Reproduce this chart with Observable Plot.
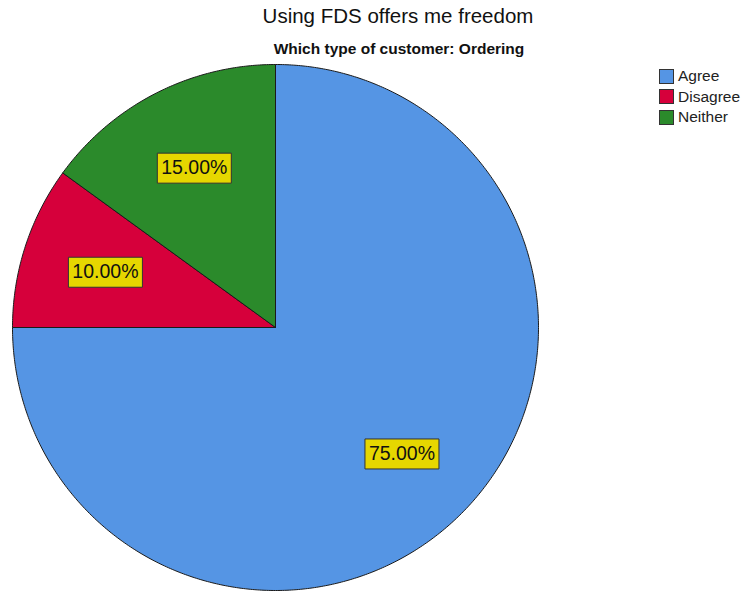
<!DOCTYPE html>
<html>
<head>
<meta charset="utf-8">
<script src="https://cdn.jsdelivr.net/npm/d3@7"></script>
<script src="https://cdn.jsdelivr.net/npm/@observablehq/plot@0.6"></script>
<style>
  html, body { margin: 0; padding: 0; background: #fff; }
  #wrap { position: relative; width: 741px; height: 592px; overflow: hidden; font-family: "Liberation Sans", Arial, sans-serif; }
  #title { position: absolute; left: 0; width: 796px; top: 4px; text-align: center; font-size: 20.5px; color: #111; }
  #subtitle { position: absolute; left: 0; width: 798px; top: 40px; text-align: center; font-size: 15.5px; font-weight: bold; color: #111; }
  #legend { position: absolute; left: 659px; top: 66px; font-size: 15.5px; color: #222; }
  .row { display: flex; align-items: center; height: 20.5px; }
  .sw { width: 13px; height: 13px; border: 1px solid #333; margin-right: 4px; }
  #chart { position: absolute; left: 0; top: 0; }
</style>
</head>
<body>
<div id="wrap">
  <div id="chart"></div>
  <div id="title">Using FDS offers me freedom</div>
  <div id="subtitle">Which type of customer: Ordering</div>
  <div id="legend"></div>
</div>
<script>
const categories = ["Agree", "Disagree", "Neither"];
const values = [75, 10, 15];
const colors = ["#5595e4", "#d6003b", "#2b8a2b"];

// Build slice outlines (clockwise from 12 o'clock) in unit-circle data space
const total = d3.sum(values);
const slices = [];
let acc = 0;
categories.forEach((c, i) => {
  const a0 = acc / total * 2 * Math.PI;
  acc += values[i];
  const a1 = acc / total * 2 * Math.PI;
  slices.push({cat: c, value: values[i], a0, a1});
});
const pts = [];
for (const s of slices) {
  pts.push({cat: s.cat, x: 0, y: 0});
  const n = Math.max(2, Math.ceil((s.a1 - s.a0) / (Math.PI / 360)));
  for (let k = 0; k <= n; k++) {
    const a = s.a0 + (s.a1 - s.a0) * k / n;
    pts.push({cat: s.cat, x: Math.sin(a), y: Math.cos(a)});
  }
  pts.push({cat: s.cat, x: 0, y: 0});
}
const labelR = 0.68;
const labels = slices.map(s => {
  const m = (s.a0 + s.a1) / 2;
  return {cat: s.cat, x: labelR * Math.sin(m), y: labelR * Math.cos(m), text: s.value.toFixed(2) + "%"};
});

const boxSymbol = {
  draw(ctx) {
    ctx.moveTo(-37, -15); ctx.lineTo(37, -15); ctx.lineTo(37, 15); ctx.lineTo(-37, 15); ctx.closePath();
  }
};

const plot = Plot.plot({
  width: 741,
  height: 592,
  margin: 0,
  style: {fontFamily: "'Liberation Sans', Arial, sans-serif", background: "transparent"},
  x: {domain: [-1, 1], range: [12, 538], axis: null},
  y: {domain: [-1, 1], range: [590, 64], axis: null},
  color: {domain: categories, range: colors},
  marks: [
    Plot.line(pts, {x: "x", y: "y", z: "cat", fill: "cat", stroke: "#1a1a1a", strokeWidth: 1, curve: "linear", strokeLinejoin: "round"}),
    Plot.dot(labels, {x: "x", y: "y", symbol: boxSymbol, r: 10, fill: "#e6d700", stroke: "#333", strokeWidth: 1}),
    Plot.text(labels, {x: "x", y: "y", text: "text", fontSize: 19.5, fill: "#111", textAnchor: "middle", lineAnchor: "middle"})
  ]
});
document.getElementById("chart").appendChild(plot);

const legend = document.getElementById("legend");
categories.forEach((c, i) => {
  const row = document.createElement("div");
  row.className = "row";
  const sw = document.createElement("div");
  sw.className = "sw";
  sw.style.background = colors[i];
  const t = document.createElement("span");
  t.textContent = c;
  row.appendChild(sw); row.appendChild(t);
  legend.appendChild(row);
});
</script>
</body>
</html>
